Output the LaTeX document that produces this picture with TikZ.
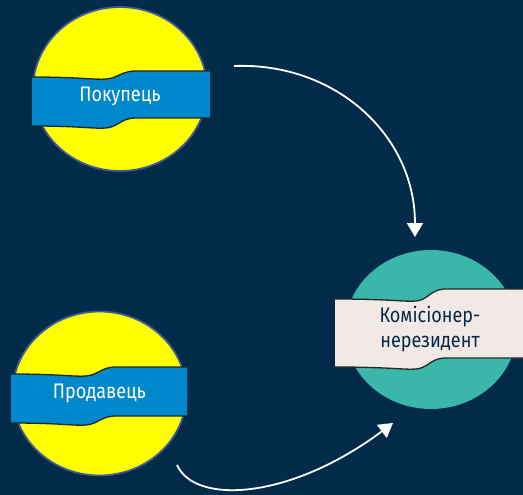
\documentclass[tikz,border=0pt]{standalone}
\usepackage{fontspec}
\setmainfont{Fira Sans}[FakeStretch=0.86]
\usetikzlibrary{shapes.geometric,arrows.meta}
\definecolor{bgnavy}{RGB}{2,42,73}
\definecolor{ballyellow}{RGB}{255,255,0}
\definecolor{ballrim}{RGB}{60,90,150}
\definecolor{bannerblue}{RGB}{0,136,204}
\definecolor{ballteal}{RGB}{58,183,170}
\definecolor{bannercream}{RGB}{240,233,229}
\definecolor{textnavy}{RGB}{8,40,72}
\tikzset{
  ball/.style={ellipse, minimum width=174pt, minimum height=164pt, inner sep=0pt},
  yellowball/.style={ball, fill=ballyellow, draw=ballrim, line width=1.8pt},
  tealball/.style={ellipse, minimum width=172pt, minimum height=159pt, inner sep=0pt, fill=ballteal},
  edge/.style={draw=black!85, line width=1.3pt},
  labeltext/.style={font=\fontsize{21}{25}\selectfont, align=center, inner sep=0pt},
  flow/.style={draw=white, line width=1.8pt, -{Triangle[length=14pt,width=16pt]}}
}
% banner: #1 x0, #2 x1, #3 xm, #4 top-left, #5 top-right, #6 bottom-left, #7 bottom-right, #8 fill
\newcommand{\bannerpath}[8]{%
  \fill[#8] (#1,#4) .. controls (#3-40,#4) and (#3-25,#4+3) .. (#3-14,#4+2)
     .. controls (#3-2,#4+1) and (#3,#5+1) .. (#3+14,#5)
     -- (#2,#5) -- (#2,#7)
     -- (#3+14,#7) .. controls (#3,#7+1) and (#3-2,#6+1) .. (#3-14,#6+2)
     .. controls (#3-25,#6+3) and (#3-40,#6) .. (#1,#6) -- cycle;
  \draw[edge] (#1,#4) .. controls (#3-40,#4) and (#3-25,#4+3) .. (#3-14,#4+2)
     .. controls (#3-2,#4+1) and (#3,#5+1) .. (#3+14,#5) -- (#2,#5);
  \draw[edge] (#2,#7) -- (#3+14,#7) .. controls (#3,#7+1) and (#3-2,#6+1) .. (#3-14,#6+2)
     .. controls (#3-25,#6+3) and (#3-40,#6) .. (#1,#6);
}
\begin{document}
\begin{tikzpicture}[x=1pt,y=-1pt]
\useasboundingbox (0,0) rectangle (523,495);
\fill[bgnavy] (0,0) rectangle (523,495);

\node[yellowball] (buyer) at (120,89) {};
\bannerpath{32}{210}{120}{77}{71}{126}{118}{bannerblue}
\node[labeltext, text=white] (buyertext) at (120,97) {Покупець};

\node[yellowball] (seller) at (99.5,393.5) {};
\bannerpath{11}{187}{100}{374}{367}{423}{416}{bannerblue}
\node[labeltext, text=white] (sellertext) at (99.5,394) {Продавець};

\node[tealball] (agent) at (431,329.5) {};
\bannerpath{335}{530}{430}{299}{289}{367}{358}{bannercream}
\node[labeltext, text=textnavy] (agenttext) at (430,329) {Комісіонер-\\нерезидент};

\coordinate (a1s) at (234,66);
\coordinate (a1e) at (415,237);
\coordinate (a2s) at (177,465);
\coordinate (a2e) at (393,423);
\draw[flow] (a1s) .. controls (335,62) and (415,135) .. (a1e);
\draw[flow] (a2s) .. controls (195,505) and (290,500) .. (a2e);
\end{tikzpicture}
\end{document}
